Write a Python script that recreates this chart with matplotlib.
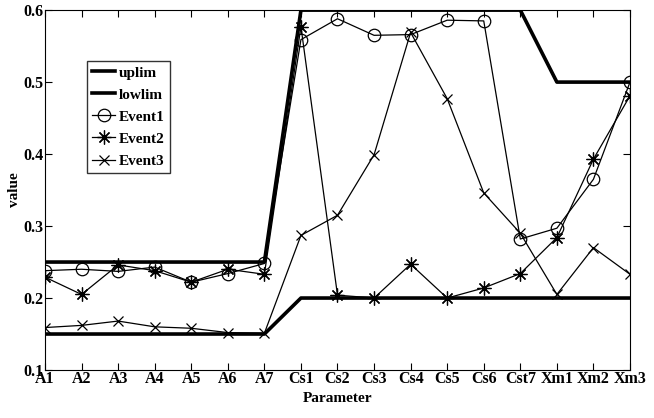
import matplotlib
matplotlib.use("Agg")
import matplotlib.pyplot as plt

#%% Data
params = ['A1', 'A2', 'A3', 'A4', 'A5', 'A6', 'A7', 'Cs1', 'Cs2', 'Cs3', 'Cs4',
          'Cs5', 'Cs6', 'Cst7', 'Xm1', 'Xm2', 'Xm3']
uplim  = [0.25, 0.25, 0.25, 0.25, 0.25, 0.25, 0.25, 0.6, 0.6, 0.6, 0.6,
          0.6, 0.6, 0.6, 0.5, 0.5, 0.5]
lowlim = [0.15, 0.15, 0.15, 0.15, 0.15, 0.15, 0.15, 0.2, 0.2, 0.2, 0.2,
          0.2, 0.2, 0.2, 0.2, 0.2, 0.2]
event1 = [0.238, 0.240, 0.237, 0.243, 0.222, 0.234, 0.248, 0.559, 0.588, 0.565, 0.566,
          0.586, 0.585, 0.282, 0.297, 0.365, 0.500]
event2 = [0.229, 0.205, 0.246, 0.238, 0.222, 0.240, 0.233, 0.577, 0.204, 0.200, 0.247,
          0.200, 0.214, 0.234, 0.284, 0.393, 0.481]
event3 = [0.159, 0.162, 0.168, 0.160, 0.158, 0.152, 0.151, 0.287, 0.315, 0.399, 0.569,
          0.477, 0.346, 0.290, 0.205, 0.270, 0.233]

#%% Style
plt.rcParams['font.family'] = ['Liberation Serif', 'DejaVu Serif']
plt.rcParams['font.weight'] = 'bold'
plt.rcParams['axes.labelweight'] = 'bold'

fig = plt.figure(figsize=(6.54, 4.18), dpi=100)
ax = fig.add_axes([0.0688, 0.1148, 0.8945, 0.861])

x = range(len(params))
star = (8, 2, 0)  # matlab style asterisk
ax.plot(x, uplim, 'k-', lw=2.6, label='uplim')
ax.plot(x, lowlim, 'k-', lw=2.6, label='lowlim')
ax.plot(x, event1, 'k-', lw=0.9, marker='o', ms=9, mfc='none', mew=0.9, label='Event1')
ax.plot(x, event2, 'k-', lw=0.9, marker=star, ms=10, mew=0.9, label='Event2')
ax.plot(x, event3, 'k-', lw=0.9, marker='x', ms=7, mew=0.9, label='Event3')

ax.set_xlim(0, len(params) - 1)
ax.set_ylim(0.1, 0.6)
ax.set_xticks(list(x))
ax.set_xticklabels(params)
ax.set_yticks([0.1, 0.2, 0.3, 0.4, 0.5, 0.6])
ax.tick_params(direction='in', top=True, right=True, labelsize=11.5, length=5, pad=1)
for lab in ax.get_xticklabels() + ax.get_yticklabels():
    lab.set_fontweight('bold')
ax.set_xlabel('Parameter', fontsize=11, labelpad=3)
ax.set_ylabel('value', fontsize=11, labelpad=2)

leg = ax.legend(loc='upper left', bbox_to_anchor=(0.072, 0.86),
                frameon=True, fancybox=False, edgecolor='k', handlelength=1.5,
                handletextpad=0.2, borderpad=0.35, labelspacing=0.55,
                borderaxespad=0, prop={'weight': 'bold', 'size': 11})
leg.get_frame().set_linewidth(1.0)

fig.savefig('out.png', dpi=100)
